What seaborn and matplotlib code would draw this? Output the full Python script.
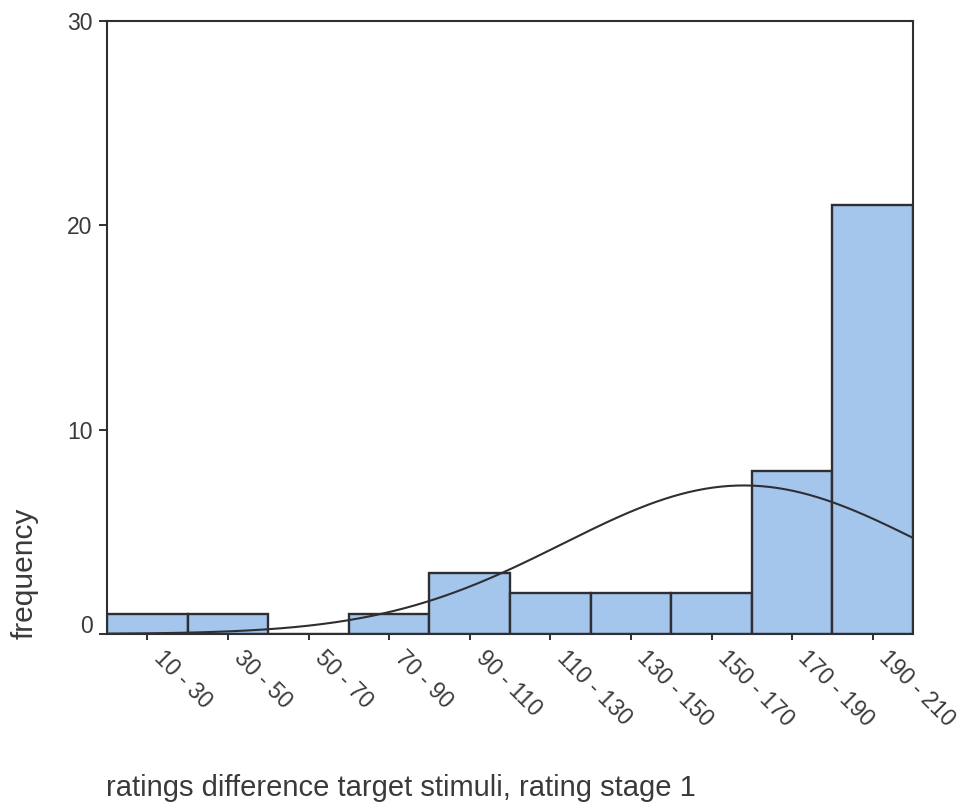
import numpy as np
import pandas as pd
import matplotlib
matplotlib.use("Agg")
import matplotlib.pyplot as plt
import matplotlib.transforms as mtransforms
import seaborn as sns

# Histogram data: rating differences grouped in 20-point classes
bin_edges = [10, 30, 50, 70, 90, 110, 130, 150, 170, 190, 210]
bin_labels = ["10 - 30", "30 - 50", "50 - 70", "70 - 90", "90 - 110",
              "110 - 130", "130 - 150", "150 - 170", "170 - 190", "190 - 210"]
counts = [1, 1, 0, 1, 3, 2, 2, 2, 8, 21]

# Fitted normal curve parameters
curve_mean = 168.0
curve_sd = 45.0

y_ticks = [0, 10, 20, 30]

TEXT = "#3a3a3a"
EDGE = "#2f2f33"
FILL = "#a4c5ec"

sns.set_style("white")
plt.rcParams["font.family"] = ["Liberation Sans", "DejaVu Sans"]

bin_centers = [(a + b) / 2 for a, b in zip(bin_edges[:-1], bin_edges[1:])]
bin_width = bin_edges[1] - bin_edges[0]
n_total = sum(counts)
hist_df = pd.DataFrame({"rating": bin_centers, "n": counts})

fig = plt.figure(figsize=(9.63, 8.07), dpi=100)
ax = fig.add_axes([107 / 963, 1 - 634 / 807, 806 / 963, 613 / 807])

sns.histplot(data=hist_df, x="rating", weights="n", bins=bin_edges, ax=ax,
             color=FILL, edgecolor=EDGE, linewidth=1.7, alpha=1.0, zorder=2)

# Normal curve scaled to the histogram (frequency per class)
xs = np.linspace(bin_edges[0], bin_edges[-1], 400)
ys = n_total * bin_width * np.exp(-0.5 * ((xs - curve_mean) / curve_sd) ** 2) / (curve_sd * np.sqrt(2 * np.pi))
curve_df = pd.DataFrame({"x": xs, "y": ys})
sns.lineplot(data=curve_df, x="x", y="y", ax=ax, color=EDGE, linewidth=1.5, zorder=3)

ax.set_xlim(bin_edges[0], bin_edges[-1])
ax.set_ylim(0, 30)

ax.set_xticks(bin_centers)
ax.set_xticklabels(bin_labels, rotation=-45, ha="left", va="top", rotation_mode="anchor")
ax.set_yticks(y_ticks)
ax.set_yticklabels([str(v) for v in y_ticks])

ax.tick_params(axis="x", direction="out", length=4, width=1.4, color=EDGE,
               labelsize=16.5, labelcolor=TEXT, pad=5)
ax.tick_params(axis="y", direction="out", length=6, width=1.4, color=EDGE,
               labelsize=16.5, labelcolor=TEXT, pad=4.5)
ax.tick_params(bottom=True, left=True)

# nudge the slanted class labels so they start just right of each tick
shift = mtransforms.ScaledTranslation(18 / 100, 0, fig.dpi_scale_trans)
for lbl in ax.get_xticklabels():
    lbl.set_transform(lbl.get_transform() + shift)

# lift the zero label slightly above the baseline
lbls = ax.get_yticklabels()
lbls[0].set_transform(lbls[0].get_transform() + mtransforms.ScaledTranslation(0, 10 / 100, fig.dpi_scale_trans))

for side in ["left", "right", "top", "bottom"]:
    ax.spines[side].set_visible(True)
    ax.spines[side].set_color(EDGE)
    ax.spines[side].set_linewidth(1.5)

ax.set_xlabel("")
ax.set_ylabel("")
ax.grid(False)

fig.text(25 / 963, 1 - 573 / 807, "frequency", rotation=90, ha="center", va="center",
         fontsize=21.5, color=TEXT)
fig.text(106 / 963, 1 - 796 / 807, "ratings difference target stimuli, rating stage 1",
         ha="left", va="baseline", fontsize=21, color=TEXT)

fig.savefig("out.png", dpi=100, facecolor="white")
